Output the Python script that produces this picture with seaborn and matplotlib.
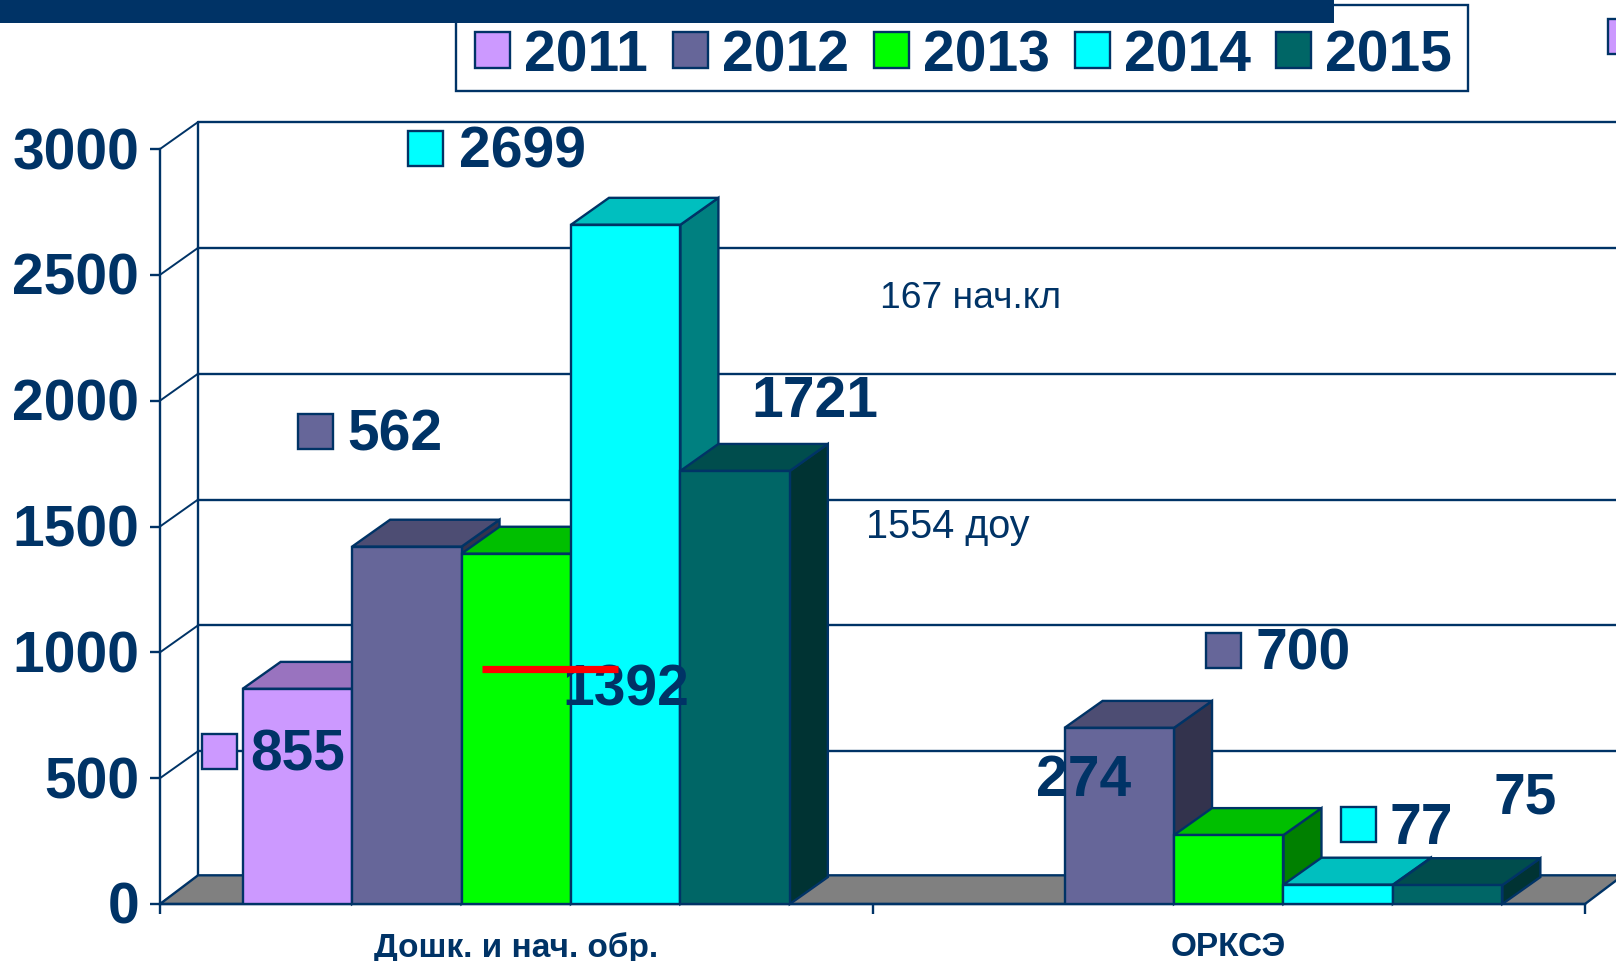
import numpy as np
import pandas as pd
import seaborn as sns
import matplotlib.pyplot as plt
from matplotlib.colors import to_rgb
from matplotlib.patches import Patch, Polygon, Rectangle
from matplotlib.lines import Line2D
from matplotlib.transforms import ScaledTranslation

W, H = 1616, 962
NAVY = "#003366"

categories = ["Дошк. и нач. обр.", "ОРКСЭ"]
years = ["2011", "2012", "2013", "2014", "2015"]
colors = ["#CC99FF", "#666699", "#00FF00", "#00FFFF", "#006666"]
preschool = [855, 1420, 1392, 2699, 1721]
orkse = [np.nan, 700, 274, 77, 75]
y_ticks = [0, 500, 1000, 1500, 2000, 2500, 3000]

# подписи на слайде стоят не у своих столбцов, поэтому отдельно
label_texts = ["855", "562", "1392", "2699", "1721", "700", "274", "77", "75"]
label_years = ["2011", "2012", None, "2014", None, "2012", None, "2014", None]
label_left = [250, 347, 562, 459, 751, 1255, 1036, 1390, 1494]
label_mid = [750, 430, 685, 147, 396, 649, 775, 823, 793]
swatch_left = [202, 298, None, 408, None, 1206, None, 1341, None]

note_texts = ["167 нач.кл", "1554 доу"]
note_left = [880, 866]
note_mid = [295, 525]
note_sizes = [26.8, 28.5]

# глубина псевдо-3D: в долях категории и в единицах значения
DEPTH_X = 38 / 712.5
DEPTH_Y = 107
FLOOR_EXTRA = 7


def shade(color, k):
    return tuple(c * k for c in to_rgb(color))


def fx(x):
    return x / W


def fy(y):
    return 1 - y / H


def add_swatch(fig, x, y, w, h, color):
    fig.add_artist(Rectangle((fx(x), fy(y + h)), w / W, h / H, transform=fig.transFigure,
                             facecolor=color, edgecolor=NAVY, linewidth=1.7, zorder=4))


sns.set_theme(style="white")
plt.rcParams["font.family"] = ["Liberation Sans", "DejaVu Sans"]

df = pd.DataFrame({
    "category": [categories[0]] * len(years) + [categories[1]] * len(years),
    "year": years * 2,
    "value": preschool + orkse,
})

fig = plt.figure(figsize=(W / 100, H / 100), dpi=100)
ax = fig.add_axes([fx(160), fy(905), 1425 / W, 755 / H])

sns.barplot(data=df, x="category", y="value", hue="year", hue_order=years, palette=colors,
            saturation=1, width=0.768, gap=0, errorbar=None, legend=False,
            edgecolor=NAVY, linewidth=1.7, ax=ax)

ax.set_xlim(-0.5, 1.5)
ax.set_ylim(0, 3000)
ax.set_xlabel("")
ax.set_ylabel("")
ax.patch.set_alpha(0)

left, right = -0.5, 1.5

# пол и задняя стенка
floor_y = DEPTH_Y + FLOOR_EXTRA
ax.add_patch(Polygon([(left, 0), (left + DEPTH_X, floor_y), (right + DEPTH_X, floor_y), (right, 0)],
                     facecolor="#808080", edgecolor=NAVY, linewidth=1.7, clip_on=False, zorder=1.5))
ax.plot([left + DEPTH_X] * 2, [floor_y, 3000 + DEPTH_Y], color=NAVY, lw=1.7, clip_on=False, zorder=1)
for v in y_ticks:
    ax.plot([left, left + DEPTH_X], [v, v + DEPTH_Y], color=NAVY, lw=1.4, clip_on=False, zorder=1)
    if v > 0:
        ax.plot([left + DEPTH_X, right + DEPTH_X], [v + DEPTH_Y] * 2, color=NAVY, lw=1.7,
                clip_on=False, zorder=1)

# боковые и верхние грани считаем от столбцов seaborn
bars = sorted([p for p in ax.patches if isinstance(p, Rectangle)], key=lambda p: p.get_x())
for i, bar in enumerate(bars):
    x, w, h = bar.get_x(), bar.get_width(), bar.get_height()
    if not np.isfinite(h) or h == 0:
        continue
    color = bar.get_facecolor()[:3]
    z = 3 + i * 0.1
    ax.add_patch(Polygon([(x + w, 0), (x + w + DEPTH_X, DEPTH_Y), (x + w + DEPTH_X, h + DEPTH_Y), (x + w, h)],
                         facecolor=shade(color, 0.5), edgecolor=NAVY, linewidth=1.7, clip_on=False, zorder=z))
    ax.add_patch(Polygon([(x, h), (x + DEPTH_X, h + DEPTH_Y), (x + w + DEPTH_X, h + DEPTH_Y), (x + w, h)],
                         facecolor=shade(color, 0.75), edgecolor=NAVY, linewidth=1.7, clip_on=False, zorder=z))
    bar.set_zorder(z + 0.05)

sns.despine(ax=ax)
for side in ["left", "bottom"]:
    ax.spines[side].set_color(NAVY)
    ax.spines[side].set_linewidth(1.7)
    ax.spines[side].set_zorder(2)

ax.set_yticks(y_ticks)
ax.set_xticks([left, 0.5, right])
ax.set_xticklabels([])
ax.set_xticks([0, 1], categories, minor=True)
ax.tick_params(axis="x", which="major", bottom=True, length=7.5, width=1.7, color=NAVY)
ax.tick_params(axis="x", which="minor", bottom=False, length=0, pad=19.5, labelsize=24, labelcolor=NAVY)
ax.tick_params(axis="y", left=True, length=7.5, width=1.7, color=NAVY, pad=7.5, labelsize=41, labelcolor=NAVY)
for t in ax.get_xticklabels(minor=True):
    t.set_fontweight("bold")
up = ScaledTranslation(0, 2 / 100, fig.dpi_scale_trans)
for t in ax.get_yticklabels():
    t.set_fontweight("bold")
    t.set_transform(t.get_transform() + up)

# рамку легенды рисуем сами, текст в ней сидит ниже центра
fig.add_artist(Rectangle((fx(456), fy(91.5)), 1012 / W, 85.5 / H, transform=fig.transFigure,
                         facecolor="white", edgecolor=NAVY, linewidth=1.7, zorder=4.5))
handles = [Patch(facecolor=c, edgecolor=NAVY, linewidth=1.7) for c in colors]
leg = fig.legend(handles, years, ncol=5, loc="upper left", bbox_to_anchor=(fx(458), fy(12)),
                 bbox_transform=fig.transFigure, frameon=False, borderaxespad=0, borderpad=0.3,
                 handlelength=0.61, handleheight=0.61, handletextpad=0.25, columnspacing=0.44,
                 labelspacing=0, prop={"size": 41, "weight": "bold"})
for t in leg.get_texts():
    t.set_color(NAVY)

# подписи значений
for text, year, x, mid, sx in zip(label_texts, label_years, label_left, label_mid, swatch_left):
    fig.text(fx(x), fy(mid + 21), text, color=NAVY, fontsize=41, fontweight="bold", ha="left", va="baseline")
    if sx is not None:
        add_swatch(fig, sx, mid - 15, 35, 35, colors[years.index(year)])

for text, x, mid, size in zip(note_texts, note_left, note_mid, note_sizes):
    fig.text(fx(x), fy(mid + 13), text, color=NAVY, fontsize=size, ha="left", va="baseline")

# лишние элементы слайда
fig.add_artist(Rectangle((0, fy(24)), 1334 / W, 24 / H, transform=fig.transFigure,
                         facecolor=NAVY, edgecolor="none", zorder=7))
add_swatch(fig, 1608, 20, 35, 35, colors[0])
fig.add_artist(Line2D([fx(482), fx(618)], [fy(670)] * 2, transform=fig.transFigure,
                      color="#FF0000", linewidth=5.2, solid_capstyle="butt", zorder=8))

fig.savefig("out.png", dpi=100)
